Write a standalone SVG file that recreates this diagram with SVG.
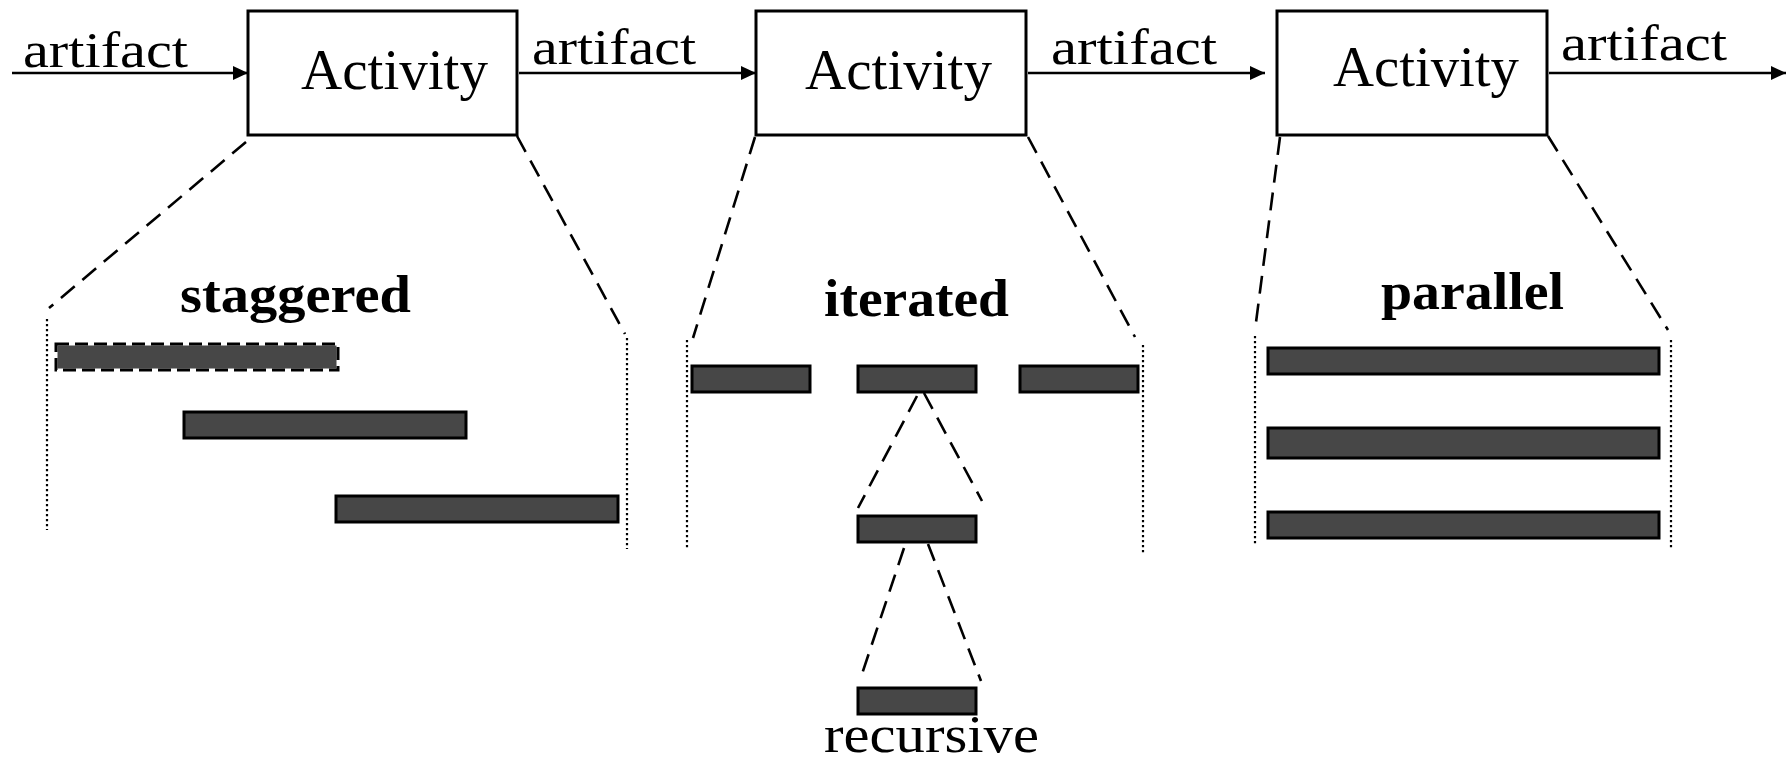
<svg xmlns="http://www.w3.org/2000/svg" width="1787" height="765" viewBox="0 0 1787 765">
<defs>
<marker id="ah" markerWidth="15" markerHeight="14" refX="15" refY="7" orient="auto" markerUnits="userSpaceOnUse">
<path d="M0,0 L15,7 L0,14 Z" fill="#000"/>
</marker>
<style>
.box{fill:#fff;stroke:#000;stroke-width:3}
.lbl{font-family:"Liberation Serif",serif;font-size:57px;fill:#000}
.art{font-family:"Liberation Serif",serif;font-size:50px;fill:#000}
.rec{font-family:"Liberation Serif",serif;font-size:53px;fill:#000}
.title{font-family:"Liberation Serif",serif;font-size:53px;font-weight:bold;fill:#000}
.flow{stroke:#000;stroke-width:2.6;fill:none;marker-end:url(#ah)}
.dash{stroke:#000;stroke-width:2.6;stroke-dasharray:18,10;fill:none}
.dot{stroke:#000;stroke-width:2.2;stroke-dasharray:2.2,2.8;fill:none}
.bar{fill:#474747;stroke:#000;stroke-width:3}
</style>
</defs>
<rect width="1787" height="765" fill="#fff"/>

<g id="connectors">
<line class="flow" x1="12" y1="73" x2="248" y2="73"/>
<line class="flow" x1="519" y1="73" x2="756" y2="73"/>
<line class="flow" x1="1028" y1="73" x2="1265" y2="73"/>
<line class="flow" x1="1549" y1="73" x2="1786" y2="73"/>
<text class="art" x="23" y="67" textLength="165" lengthAdjust="spacingAndGlyphs">artifact</text>
<text class="art" x="532" y="64" textLength="164" lengthAdjust="spacingAndGlyphs">artifact</text>
<text class="art" x="1051" y="64" textLength="166" lengthAdjust="spacingAndGlyphs">artifact</text>
<text class="art" x="1561" y="60" textLength="166" lengthAdjust="spacingAndGlyphs">artifact</text>

<!-- zoom lines from boxes -->
<line class="dash" x1="246" y1="142" x2="49" y2="308"/>
<line class="dash" x1="517" y1="136" x2="625" y2="334"/>
<line class="dash" x1="755" y1="137" x2="693" y2="338"/>
<line class="dash" x1="1028" y1="137" x2="1135" y2="337"/>
<line class="dash" x1="1280" y1="137" x2="1255" y2="330"/>
<line class="dash" x1="1548" y1="136" x2="1668" y2="330"/>

<!-- recursive zoom lines -->
<line class="dash" x1="917" y1="396" x2="858" y2="508"/>
<line class="dash" x1="924" y1="393" x2="982" y2="501"/>
<line class="dash" x1="904" y1="548" x2="860" y2="680"/>
<line class="dash" x1="928" y1="544" x2="981" y2="681"/>

<!-- dotted boundaries -->
<line class="dot" x1="47" y1="319" x2="47" y2="530"/>
<line class="dot" x1="627" y1="338" x2="627" y2="549"/>
<line class="dot" x1="687" y1="340" x2="687" y2="549"/>
<line class="dot" x1="1143" y1="345" x2="1143" y2="553"/>
<line class="dot" x1="1255" y1="336" x2="1255" y2="545"/>
<line class="dot" x1="1671" y1="340" x2="1671" y2="549"/>
</g>

<g id="activity1">
<rect class="box" x="248" y="11" width="269" height="124"/>
<text class="lbl" x="301" y="89" textLength="187" lengthAdjust="spacingAndGlyphs">Activity</text>
</g>
<g id="activity2">
<rect class="box" x="756" y="11" width="270" height="124"/>
<text class="lbl" x="805" y="89" textLength="187" lengthAdjust="spacingAndGlyphs">Activity</text>
</g>
<g id="activity3">
<rect class="box" x="1277" y="11" width="270" height="124"/>
<text class="lbl" x="1333" y="86" textLength="186" lengthAdjust="spacingAndGlyphs">Activity</text>
</g>

<g id="staggered">
<text class="title" x="180" y="312" textLength="231" lengthAdjust="spacingAndGlyphs">staggered</text>
<rect x="56" y="344" width="282" height="26" fill="#474747" stroke="#fff" stroke-width="3"/>
<rect x="56" y="344" width="282" height="26" fill="none" stroke="#000" stroke-width="3" stroke-dasharray="13,6"/>
<rect class="bar" x="184" y="412" width="282" height="26"/>
<rect class="bar" x="336" y="496" width="282" height="26"/>
</g>

<g id="iterated">
<text class="title" x="824" y="316" textLength="185" lengthAdjust="spacingAndGlyphs">iterated</text>
<rect class="bar" x="692" y="366" width="118" height="26"/>
<rect class="bar" x="858" y="366" width="118" height="26"/>
<rect class="bar" x="1020" y="366" width="118" height="26"/>
</g>

<g id="recursive">
<rect class="bar" x="858" y="688" width="118" height="26"/>
<rect class="bar" x="858" y="516" width="118" height="26"/>
<text class="rec" x="824" y="752" textLength="215" lengthAdjust="spacingAndGlyphs">recursive</text>
</g>

<g id="parallel">
<text class="title" x="1381" y="309" textLength="183" lengthAdjust="spacingAndGlyphs">parallel</text>
<rect class="bar" x="1268" y="348" width="391" height="26"/>
<rect class="bar" x="1268" y="428" width="391" height="30"/>
<rect class="bar" x="1268" y="512" width="391" height="26"/>
</g>
</svg>
